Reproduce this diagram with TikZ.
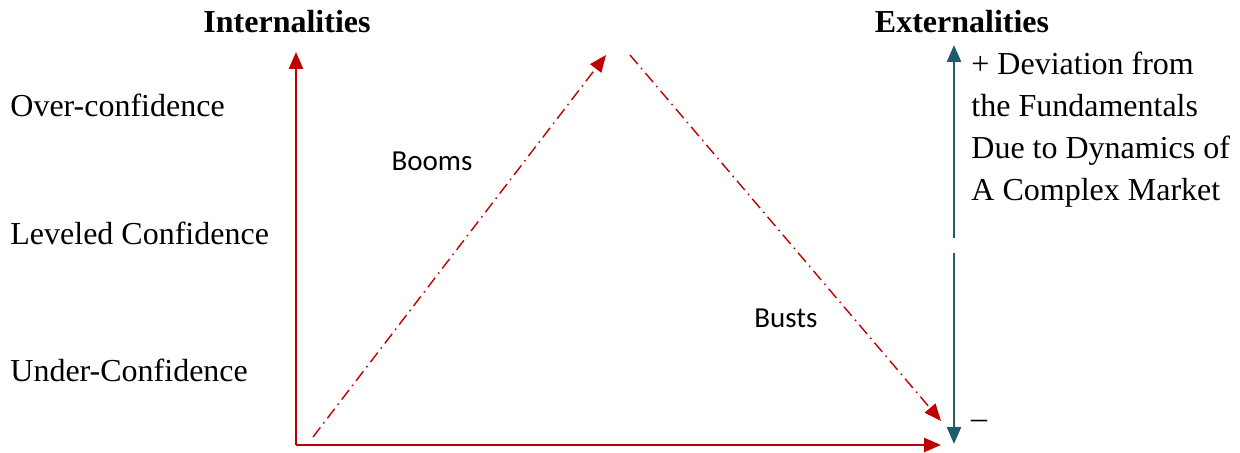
\documentclass[tikz,border=0pt]{standalone}
\usepackage{fontspec}
\setmainfont{Liberation Serif}
\newfontfamily\calibri{Carlito}
\usetikzlibrary{arrows.meta}
\definecolor{axisred}{HTML}{C00000}
\definecolor{tealblue}{HTML}{1F5B6B}
\tikzset{
  axis/.style={draw=axisred, line width=1.3pt, -{Triangle[length=8.5pt,width=7pt]}},
  trend/.style={draw=axisred, line width=0.7pt, dash pattern=on 6pt off 2.5pt on 0.8pt off 2.5pt, -{Triangle[length=8.5pt,width=7pt]}},
  ext/.style={draw=tealblue, line width=1.3pt, -{Triangle[length=8.5pt,width=7pt]}},
  lbl/.style={font=\fontsize{16}{21}\selectfont, inner sep=0pt},
  head/.style={font=\fontsize{16}{21}\selectfont\bfseries, inner sep=0pt},
  phase/.style={font=\fontsize{14.5}{17}\selectfont\calibri, inner sep=0pt}
}
\begin{document}
\begin{tikzpicture}[x=0.5pt, y=-0.5pt]
            \useasboundingbox (0,0) rectangle (1240,453);
            % Nodes
            \node[head] (intern) at (287,22) {Internalities};
            \node[head] (extern) at (962,22) {Externalities};
            \node[lbl, anchor=west] (over) at (10,105) {Over-confidence};
            \node[lbl, anchor=west] (level) at (10,233) {Leveled Confidence};
            \node[lbl, anchor=west] (under) at (10,370) {Under-Confidence};
            \node[phase] (booms) at (432,161) {Booms};
            \node[phase] (busts) at (786,318) {Busts};
            \node[lbl, anchor=north west, align=left] (dev) at (971,52) {+ Deviation from\\the Fundamentals\\Due to Dynamics of\\A Complex Market};
            \node[lbl] (minus) at (979,424) {--};

            \coordinate (O) at (296,445);
            \coordinate (ytop) at (296,52);
            \coordinate (xend) at (941,445);
            \coordinate (boomstart) at (313,437);
            \coordinate (peak) at (606,55);
            \coordinate (buststart) at (630,55);
            \coordinate (bottom) at (941,421);
            \coordinate (upstart) at (954,238);
            \coordinate (uptop) at (954,45);
            \coordinate (downstart) at (954,253);
            \coordinate (downend) at (954,444);

            % Edges
            \draw[axis] (O) -- (ytop);
            \draw[axis] (O) -- (xend);
            \draw[trend] (boomstart) -- (peak);
            \draw[trend] (buststart) -- (bottom);
            \draw[ext] (upstart) -- (uptop);
            \draw[ext] (downstart) -- (downend);
        \end{tikzpicture}
\end{document}
